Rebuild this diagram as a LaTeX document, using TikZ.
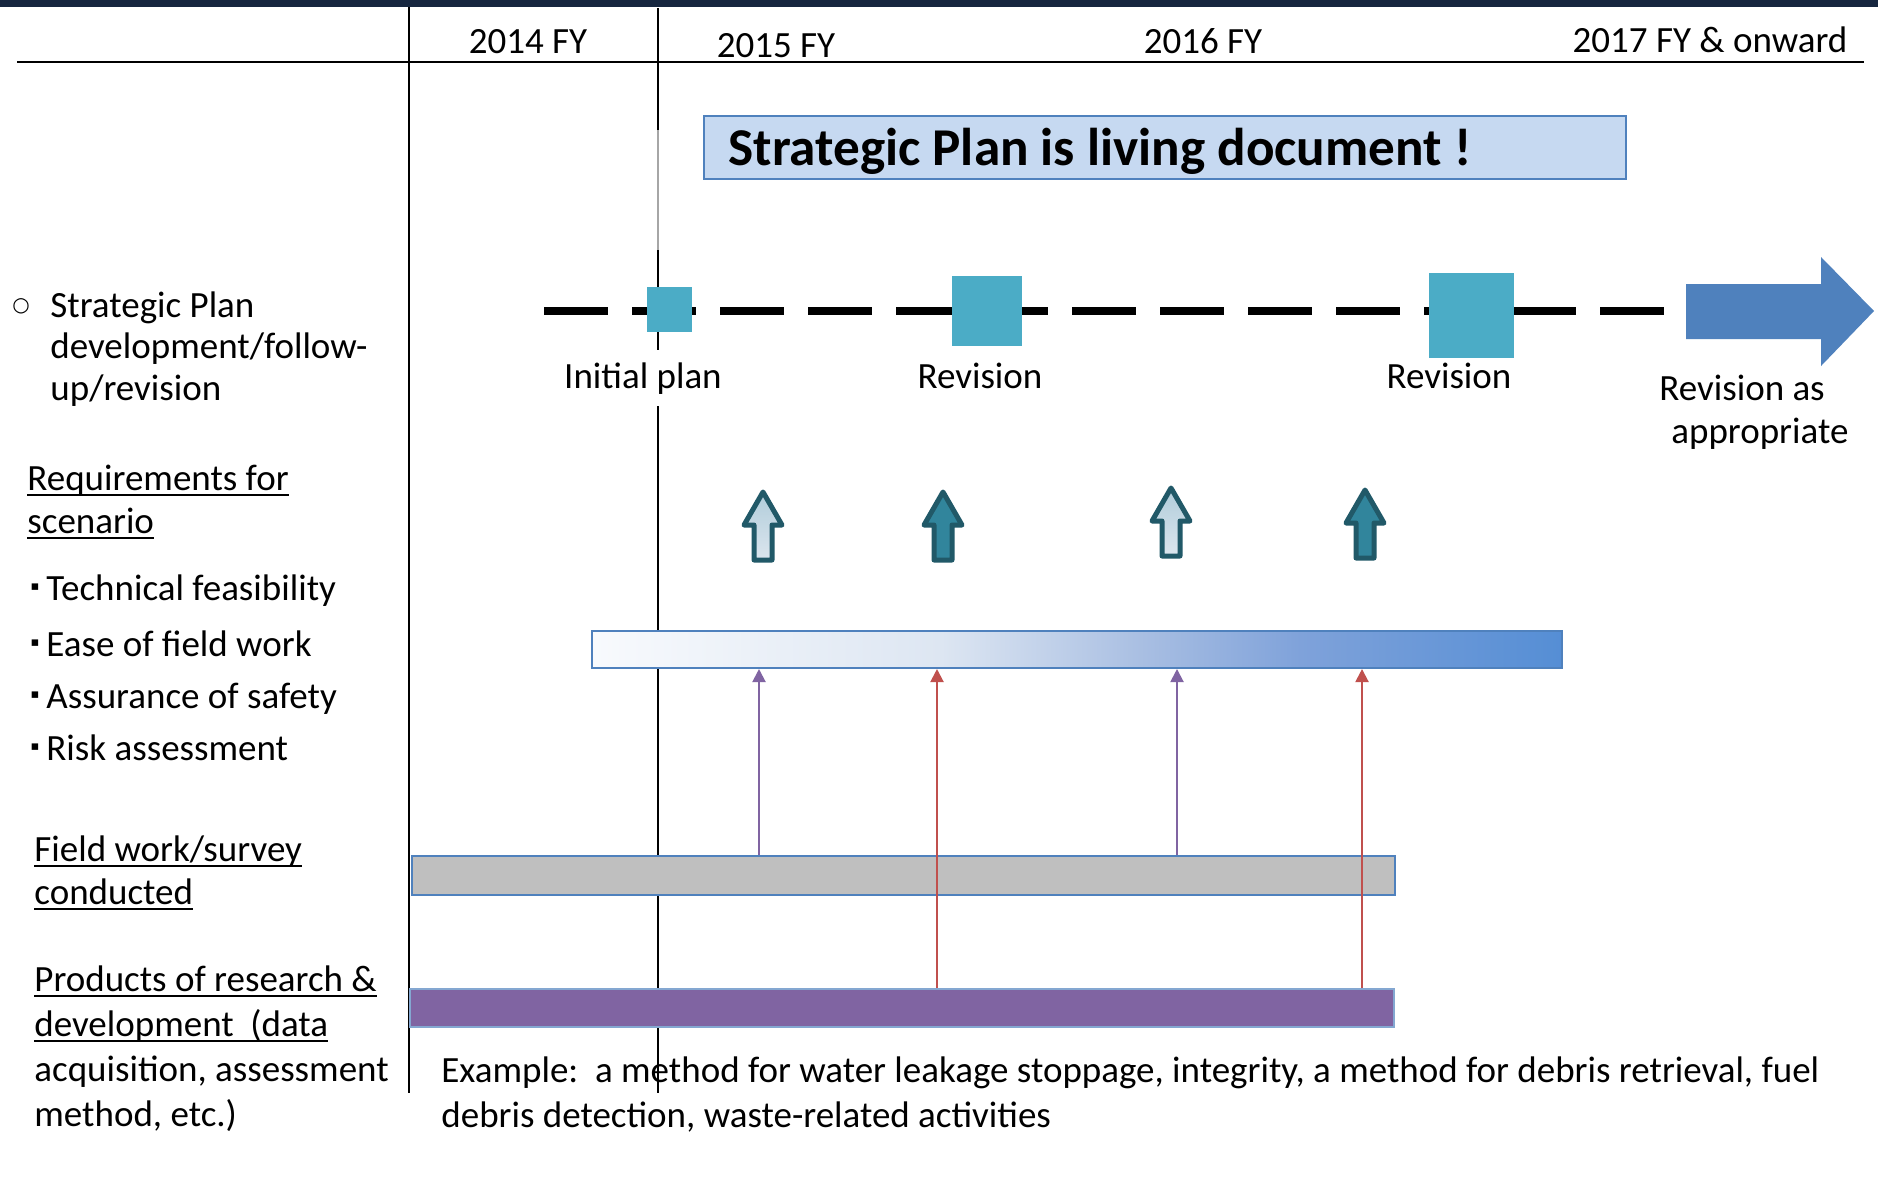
\documentclass[tikz,border=0pt]{standalone}
\usepackage{fontspec}
\setmainfont{Carlito}
\newfontfamily\dejavu{DejaVu Sans}
\usetikzlibrary{arrows.meta}
\definecolor{navy}{HTML}{16263F}
\definecolor{titlefill}{HTML}{C6D9F1}
\definecolor{accblue}{HTML}{4F81BD}
\definecolor{sqcol}{HTML}{4BACC6}
\definecolor{graybarcol}{HTML}{BFBFBF}
\definecolor{purplecol}{HTML}{8064A2}
\definecolor{redcol}{HTML}{C0504D}
\definecolor{tealdark}{HTML}{215968}
\definecolor{tealfill}{HTML}{31859C}
\definecolor{tealltop}{HTML}{B0CCDA}
\definecolor{teallbot}{HTML}{DCE6EE}
\definecolor{rqA}{HTML}{F8FAFD}
\definecolor{rqB}{HTML}{DDE6F2}
\definecolor{rqC}{HTML}{A8BEE2}
\definecolor{rqE}{HTML}{7FA2DA}
\definecolor{rqD}{HTML}{558ED5}
\pgfdeclarehorizontalshading{reqshade}{100bp}{color(0bp)=(rqA); color(25bp)=(rqA); color(43bp)=(rqB); color(53.5bp)=(rqC); color(61.5bp)=(rqE); color(75bp)=(rqD); color(100bp)=(rqD)}
\newcommand\myul[1]{\setbox0=\hbox{#1}\rlap{\rule[-3pt]{\wd0}{1pt}}\box0}
\newcommand\bodyfont{\fontsize{18.5}{22}\selectfont}
\begin{document}
\begin{tikzpicture}[x=0.5pt,y=-0.5pt,
  txt/.style={font=\bodyfont, inner sep=0pt, anchor=base west},
  ctxt/.style={font=\bodyfont, inner sep=0pt, anchor=base},
  bulletmark/.style={font=\dejavu\fontsize{6.5}{7}\selectfont, inner sep=0pt, anchor=base},
  sq/.style={fill=sqcol, draw=none, inner sep=0pt},
  bar/.style={draw=accblue, line width=1pt, inner sep=0pt},
  thinp/.style={draw=purplecol, line width=1pt, -{Triangle[width=6.5pt,length=6.5pt]}},
  thinr/.style={draw=redcol, line width=1pt, -{Triangle[width=6.5pt,length=6.5pt]}},
  gridline/.style={line width=1pt, draw=black},
  blocklight/.style={draw=tealdark, line width=2.5pt, line join=round, top color=tealltop, bottom color=teallbot},
  blockdark/.style={draw=tealdark, line width=2.5pt, line join=round, fill=tealfill},
  pics/blockup/.style={code={\path[pic actions] (0,0) -- (19,33) -- (9,33) -- (9,68) -- (-9,68) -- (-9,33) -- (-19,33) -- cycle;}}
]
\useasboundingbox (0,0) rectangle (1878,1191);
\fill[white] (0,0) rectangle (1878,1191);
% top band
\fill[navy] (0,0) rectangle (1878,7);
% grid lines
\draw[gridline] (409,7) -- (409,1093);
\draw[gridline, line width=0.8pt] (658,8) -- (658,130);
\draw[black!35, line width=0.6pt] (658,130) -- (658,250);
\draw[gridline, line width=0.8pt] (658,250) -- (658,1093);
\draw[line width=1.25pt] (17,62) -- (1864,62);
% year labels
\node[ctxt] (y14) at (528,53) {2014 FY};
\node[ctxt] (y15) at (776,57) {2015 FY};
\node[ctxt] (y16) at (1203,53) {2016 FY};
\node[ctxt] (y17) at (1710,52) {2017 FY \& onward};
% title
\node[draw=accblue, fill=titlefill, line width=1pt, anchor=north west, minimum width=461pt, minimum height=31.5pt, inner sep=0pt] (title) at (703,115) {};
\node[anchor=base west, inner sep=0pt, font=\bfseries\fontsize{26.6}{30}\selectfont] (titletext) at (728,165) {Strategic Plan is living document !};
% timeline
\draw[line width=4pt, dash pattern=on 32pt off 12pt] (544,311) -- (1664,311);
\node[sq, minimum size=22.5pt] (sq1) at (669.5,309.5) {};
\node[sq, minimum size=35pt] (sq2) at (987,310.5) {};
\node[sq, minimum size=42.5pt] (sq3) at (1471.5,315.5) {};
\fill[accblue] (1686,284) -- (1821,284) -- (1821,257) -- (1874,311) -- (1821,366) -- (1821,339) -- (1686,339) -- cycle;
\node[ctxt, fill=white, inner ysep=6pt] (l1) at (643,388) {Initial plan};
\node[ctxt] (l2) at (980,388) {Revision};
\node[ctxt] (l3) at (1449,388) {Revision};
\node[txt] (l4a) at (1659,400) {Revision as};
\node[txt] (l4b) at (1671,443) {appropriate};
% block arrows
\pic[blocklight] at (763,492) {blockup};
\pic[blockdark] at (943,492) {blockup};
\pic[blocklight] at (1171,488) {blockup};
\pic[blockdark] at (1365,490) {blockup};
% bars
\node[bar, shade, shading=reqshade, minimum width=485pt, minimum height=18.5pt] (gradbar) at (1077,649.5) {};
\node[bar, fill=graybarcol, minimum width=491.5pt, minimum height=19.5pt] (graybar) at (903.5,875.5) {};
\node[bar, fill=purplecol, draw=accblue!70, minimum width=492pt, minimum height=19pt] (purplebar) at (902,1008) {};
% thin arrows
\coordinate (c1) at (759,0);
\coordinate (c2) at (937,0);
\coordinate (c3) at (1177,0);
\coordinate (c4) at (1362,0);
\draw[thinp] (c1 |- graybar.north) -- (c1 |- gradbar.south);
\draw[thinr] (c2 |- purplebar.north) -- (c2 |- gradbar.south);
\draw[thinp] (c3 |- graybar.north) -- (c3 |- gradbar.south);
\draw[thinr] (c4 |- purplebar.north) -- (c4 |- gradbar.south);
% left column
\node[inner sep=0pt, font=\dejavu\fontsize{10}{10}\selectfont] (circ) at (21,306) {○};
\node[txt] (sp1) at (50,317) {Strategic Plan};
\node[txt] (sp2) at (50,358) {development/follow-};
\node[txt] (sp3) at (50,400) {up/revision};
\node[txt] (rq1) at (27,490) {\myul{Requirements for}};
\node[txt] (rq2) at (27,533) {\myul{scenario}};
\node[bulletmark] (b1) at (35,590) {▪};
\node[txt] (t1) at (46,600) {Technical feasibility};
\node[bulletmark] (b2) at (35,646) {▪};
\node[txt] (t2) at (46,656) {Ease of field work};
\node[bulletmark] (b3) at (35,698) {▪};
\node[txt] (t3) at (46,708) {Assurance of safety};
\node[bulletmark] (b4) at (35,750) {▪};
\node[txt] (t4) at (46,760) {Risk assessment};
\node[txt] (fw1) at (34,861) {\myul{Field work/survey}};
\node[txt] (fw2) at (34,904) {\myul{conducted}};
\node[txt] (pr1) at (34,991) {\myul{Products of research \&}};
\node[txt] (pr2) at (34,1036) {\myul{development\ \ (data}};
\node[txt] (pr3) at (34,1081) {acquisition, assessment};
\node[txt] (pr4) at (34,1126) {method, etc.)};
\node[txt] (ex1) at (441,1082) {Example:\ \ a method for water leakage stoppage, integrity, a method for debris retrieval, fuel};
\node[txt] (ex2) at (441,1127) {debris detection, waste-related activities};
\end{tikzpicture}
\end{document}
